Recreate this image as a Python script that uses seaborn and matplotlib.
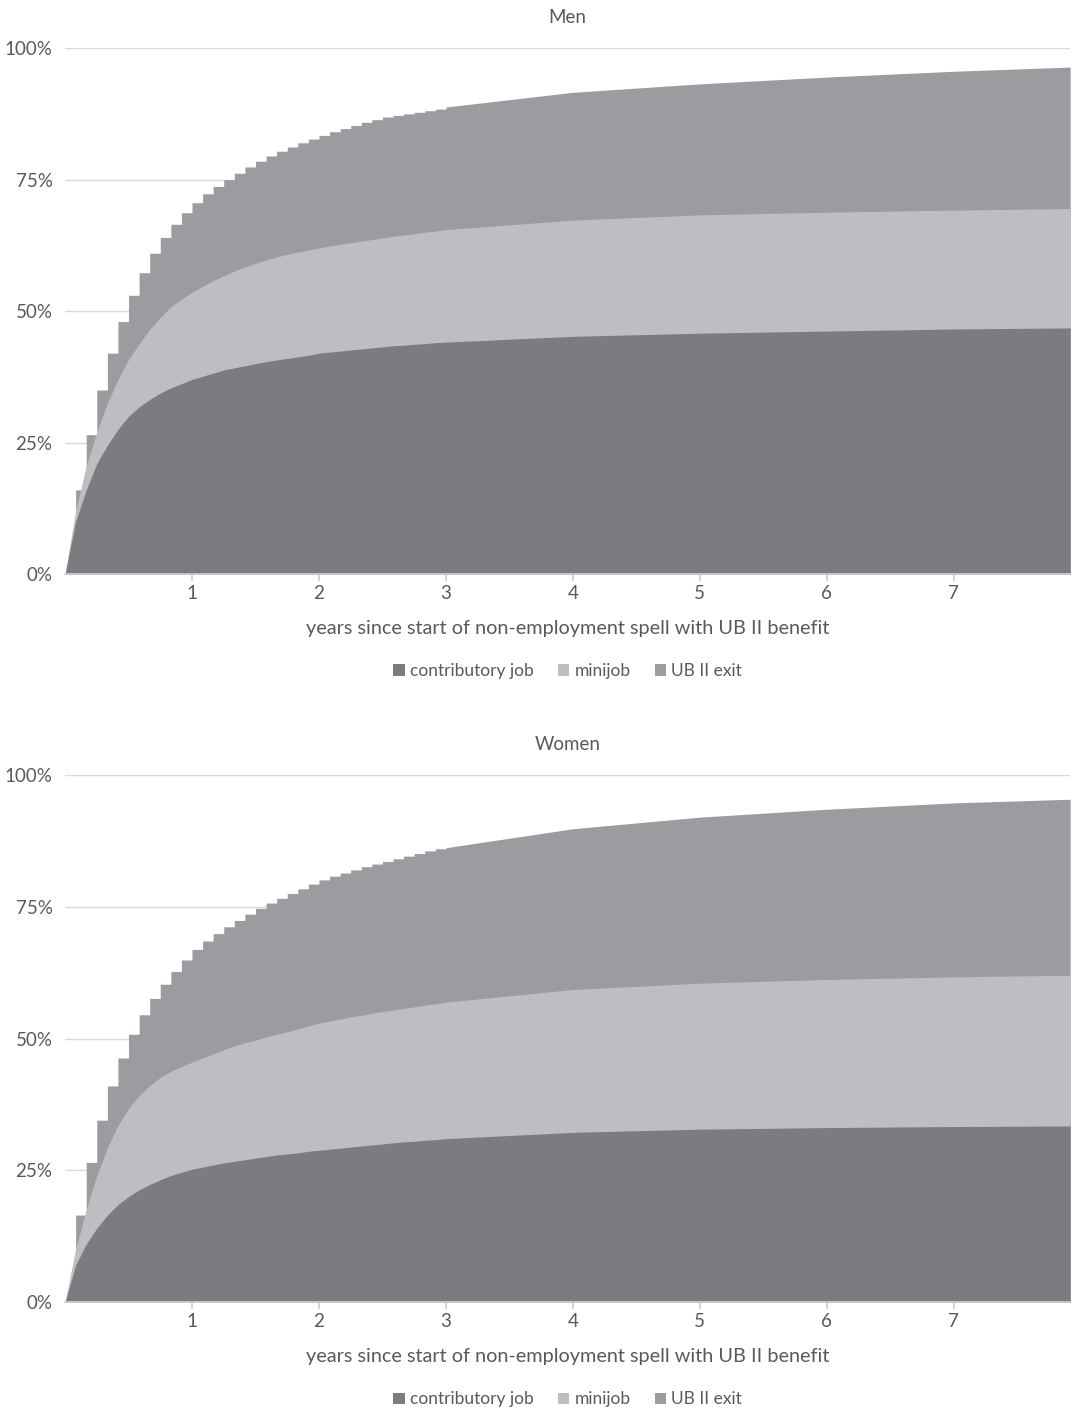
import numpy as np
import pandas as pd
import seaborn as sns
import matplotlib.pyplot as plt
from matplotlib.patches import Patch

# months since start of spell (monthly up to 3 years, then yearly)
months = list(range(0, 37)) + [48, 60, 72, 84, 95]

# cumulative shares (%), boundaries of the stacked areas
# men
men_job = [0, 10, 16, 21, 24.5, 27.5, 30, 31.8, 33.2, 34.4, 35.4, 36.2, 37,
           37.6, 38.2, 38.8, 39.2, 39.6, 40, 40.4, 40.7, 41, 41.3, 41.6, 42,
           42.2, 42.4, 42.6, 42.8, 43, 43.2, 43.4, 43.5, 43.7, 43.8, 44, 44.1,
           45.2, 45.8, 46.2, 46.6, 46.8]
men_job_mini = [0, 12, 20.5, 27, 32.5, 37, 40.8, 43.8, 46.5, 48.8, 50.8, 52.3, 53.6,
                54.7, 55.8, 56.7, 57.6, 58.4, 59.1, 59.7, 60.3, 60.8, 61.2, 61.6, 62,
                62.4, 62.7, 63, 63.3, 63.6, 63.9, 64.2, 64.5, 64.7, 65, 65.2, 65.5,
                67.3, 68.3, 68.8, 69.2, 69.5]
men_all = [0, 16, 26.5, 35, 42, 48, 53, 57.3, 61, 64, 66.5, 68.7, 70.6,
           72.3, 73.7, 75, 76.2, 77.4, 78.5, 79.5, 80.4, 81.2, 82, 82.7, 83.4,
           84.1, 84.7, 85.3, 85.9, 86.4, 86.9, 87.2, 87.5, 87.8, 88.1, 88.4, 88.8,
           91.6, 93.2, 94.5, 95.6, 96.4]
# women
women_job = [0, 7, 11, 14, 16.5, 18.5, 20, 21.3, 22.3, 23.2, 24, 24.6, 25.2,
             25.6, 26, 26.4, 26.7, 27, 27.3, 27.6, 27.9, 28.1, 28.3, 28.6, 28.8,
             29, 29.2, 29.4, 29.6, 29.8, 30, 30.2, 30.4, 30.5, 30.7, 30.8, 31,
             32.2, 32.8, 33.1, 33.3, 33.4]
women_job_mini = [0, 10, 17.5, 24, 29.3, 33.5, 36.7, 39.2, 41.1, 42.6, 43.8, 44.7, 45.5,
                  46.3, 47.1, 47.9, 48.6, 49.2, 49.7, 50.3, 50.8, 51.3, 51.8, 52.4, 52.9,
                  53.3, 53.7, 54.1, 54.4, 54.8, 55.1, 55.4, 55.7, 56, 56.3, 56.6, 56.9,
                  59.3, 60.5, 61.2, 61.7, 62]
women_all = [0, 16.5, 26.5, 34.5, 41, 46.3, 50.8, 54.5, 57.6, 60.3, 62.7, 64.9, 66.9,
             68.5, 69.9, 71.2, 72.4, 73.6, 74.7, 75.7, 76.6, 77.5, 78.4, 79.3, 80.1,
             80.8, 81.4, 82, 82.6, 83.1, 83.6, 84.1, 84.6, 85.1, 85.6, 86, 86.2,
             89.8, 92, 93.5, 94.7, 95.4]

labels = ["contributory job", "minijob", "UB II exit"]
colores = ["#7c7c80", "#bdbec2", "#9b9ca0"]

sns.set_theme(style="white")
plt.rcParams["font.family"] = ["Lato", "DejaVu Sans"]

GRIS_TXT = "#595959"
GRIS_LIN = "#d9d9d9"
N_MENSUAL = 37  # monthly part of the grid, drawn as steps


def borde_escalonado(x, v):
    # steps for the monthly part, straight segments afterwards (one polygon, no seam)
    n = N_MENSUAL
    xs = np.concatenate([np.repeat(x[:n], 2)[1:], x[n:]])
    vs = np.concatenate([np.repeat(v[:n], 2)[:-1], v[n:]])
    return xs, vs


def dibujar_panel(ax, df, titulo):
    x = df["years"].values
    xs, vs = borde_escalonado(x, df["all"].values)
    ax.fill_between(xs, 0, vs, color=colores[2], lw=0)
    ax.fill_between(x, 0, df["job_mini"], color=colores[1], lw=0)
    ax.fill_between(x, 0, df["job"], color=colores[0], lw=0)

    ax.set_xlim(0, 95 / 12)
    ax.set_ylim(0, 100)
    ax.set_yticks([0, 25, 50, 75, 100])
    ax.set_yticklabels(["0%", "25%", "50%", "75%", "100%"])
    ax.set_xticks(range(1, 8))
    ax.grid(axis="y", color=GRIS_LIN, lw=1)
    ax.set_axisbelow(True)
    for s in ["top", "right", "left"]:
        ax.spines[s].set_visible(False)
    ax.spines["bottom"].set_color("#cfcfcf")
    ax.tick_params(axis="x", length=5, color="#cfcfcf", labelsize=13.5, labelcolor=GRIS_TXT, pad=3, bottom=True)
    ax.tick_params(axis="y", length=0, labelsize=13.5, labelcolor=GRIS_TXT, pad=9)
    ax.set_title(titulo, fontsize=13.5, color=GRIS_TXT, pad=18)
    ax.set_xlabel("years since start of non-employment spell with UB II benefit",
                  fontsize=14.3, color=GRIS_TXT, labelpad=13)
    handles = [Patch(facecolor=c, edgecolor="none", label=l) for c, l in zip(colores, labels)]
    ax.legend(handles=handles, loc="upper center", bbox_to_anchor=(0.5, -0.14), ncol=3,
              frameon=False, fontsize=12.5, labelcolor=GRIS_TXT, handlelength=0.65,
              handleheight=0.65, handletextpad=0.3, columnspacing=1.4)


df_men = pd.DataFrame({"years": np.array(months) / 12, "job": men_job,
                       "job_mini": men_job_mini, "all": men_all})
df_women = pd.DataFrame({"years": np.array(months) / 12, "job": women_job,
                         "job_mini": women_job_mini, "all": women_all})

fig = plt.figure(figsize=(10.75, 14.07), dpi=100)
ax1 = fig.add_axes([0.0605, 0.592, 0.935, 0.3738])
ax2 = fig.add_axes([0.0605, 0.0746, 0.935, 0.3746])
dibujar_panel(ax1, df_men, "Men")
dibujar_panel(ax2, df_women, "Women")

fig.savefig("out.png", dpi=100, facecolor="white")
